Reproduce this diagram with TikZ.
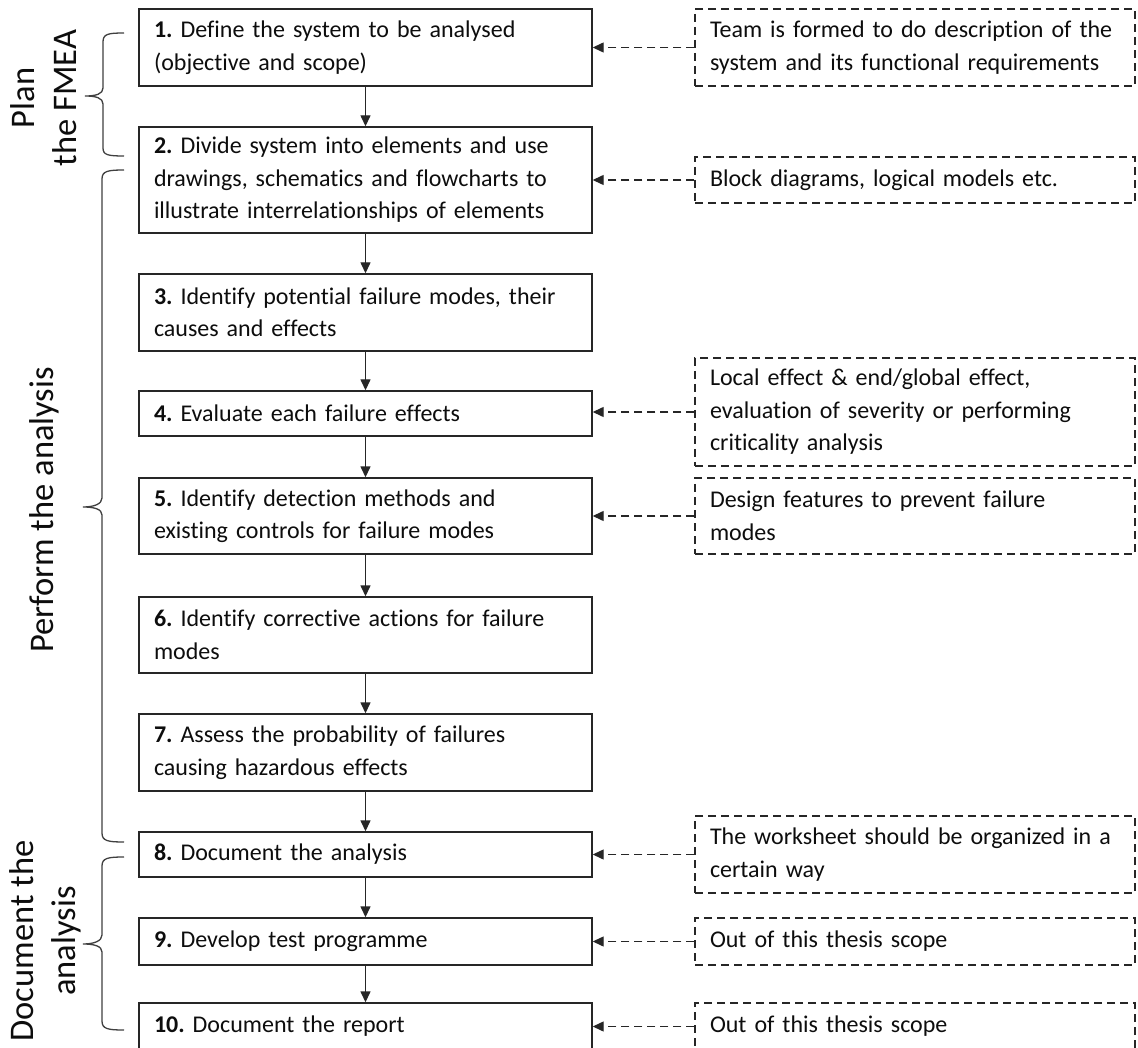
\documentclass[tikz,border=0pt]{standalone}
\usepackage{fontspec}
\setmainfont{Carlito}[Ligatures=NoCommon]
\usetikzlibrary{arrows.meta}
\frenchspacing

\tikzset{
  stepbox/.style={draw=black!85, line width=1.4pt, fill=white,
    text width=423pt, inner xsep=15pt, inner ysep=0pt, align=left,
    font=\fontsize{24}{32.5}\selectfont, text=black!95},
  notebox/.style={draw=black!85, line width=1.3pt, dash pattern=on 8pt off 5pt,
    text width=410pt, inner xsep=15pt, inner ysep=0pt, align=left,
    font=\fontsize{24}{32.5}\selectfont, text=black!95},
  flow/.style={draw=black!85, line width=1.4pt, -{Triangle[width=10pt,length=11pt]}},
  link/.style={draw=black!85, line width=1.3pt, dash pattern=on 8pt off 5pt,
    -{Triangle[width=10pt,length=11pt]}},
  bracket/.style={draw=black!75, line width=1.3pt},
  phase/.style={rotate=90, align=center, font=\fontsize{34.5}{42}\selectfont, text=black!95}
}

\begin{document}
\begin{tikzpicture}[x=1pt, y=-1pt]
  \useasboundingbox (0,0) rectangle (1138,1048);
  \fill[white] (0,0) rectangle (1138,1048);

  % main steps
  \node[stepbox, minimum height=77pt] (s1) at (365.5,47.5)
    {\textbf{1.} Define the system to be analysed\\(objective and scope)};
  \node[stepbox, minimum height=106pt] (s2) at (365.5,180)
    {\textbf{2.} Divide system into elements and use\\drawings, schematics and flowcharts to\\illustrate interrelationships of elements};
  \node[stepbox, minimum height=77pt] (s3) at (365.5,312.5)
    {\textbf{3.} Identify potential failure modes, their\\causes and effects};
  \node[stepbox, minimum height=45pt] (s4) at (365.5,413.5)
    {\textbf{4.} Evaluate each failure effects};
  \node[stepbox, minimum height=76pt] (s5) at (365.5,516)
    {\textbf{5.} Identify detection methods and\\existing controls for failure modes};
  \node[stepbox, minimum height=76pt] (s6) at (365.5,635)
    {\textbf{6.} Identify corrective actions for failure\\modes};
  \node[stepbox, minimum height=77pt] (s7) at (365.5,752.5)
    {\textbf{7.} Assess the probability of failures\\causing hazardous effects};
  \node[stepbox, minimum height=45pt] (s8) at (365.5,854.5)
    {\textbf{8.} Document the analysis};
  \node[stepbox, minimum height=47pt] (s9) at (365.5,941.5)
    {\textbf{9.} Develop test programme};
  \node[stepbox, minimum height=47pt] (s10) at (365.5,1026.5)
    {\textbf{10.} Document the report};

  % flow between steps
  \draw[flow] (s1) -- (s2);
  \draw[flow] (s2) -- (s3);
  \draw[flow] (s3) -- (s4);
  \draw[flow] (s4) -- (s5);
  \draw[flow] (s5) -- (s6);
  \draw[flow] (s6) -- (s7);
  \draw[flow] (s7) -- (s8);
  \draw[flow] (s8) -- (s9);
  \draw[flow] (s9) -- (s10);

  % notes on the right
  \node[notebox, minimum height=77pt] (n1) at (915,47.5)
    {Team is formed to do description of the\\system and its functional requirements};
  \node[notebox, minimum height=46pt] (n2) at (915,180)
    {Block diagrams, logical models etc.};
  \node[notebox, minimum height=108pt] (n4) at (915,412)
    {Local effect \& end/global effect,\\evaluation of severity or performing\\criticality analysis};
  \node[notebox, minimum height=76pt] (n5) at (915,516)
    {Design features to prevent failure\\modes};
  \node[notebox, minimum height=77pt] (n8) at (915,854.5)
    {The worksheet should be organized in a\\certain way};
  \node[notebox, minimum height=47pt] (n9) at (915,941.5)
    {Out of this thesis scope};
  \node[notebox, minimum height=47pt] (n10) at (915,1026.5)
    {Out of this thesis scope};

  \draw[link] (s1.east -| n1.west) -- (s1.east);
  \draw[link] (s2.east -| n2.west) -- (s2.east);
  \draw[link] (n4.west) -- (n4.west -| s4.east);
  \draw[link] (s5.east -| n5.west) -- (s5.east);
  \draw[link] (s8.east -| n8.west) -- (s8.east);
  \draw[link] (s9.east -| n9.west) -- (s9.east);
  \draw[link] (s10.east -| n10.west) -- (s10.east);

  % phase brackets
  \draw[bracket] (124,33) .. controls (108,33) and (103,34) .. (103,42)
    -- (103,88) .. controls (103,94) and (96,96) .. (85,96)
    .. controls (96,96) and (103,98) .. (103,104)
    -- (103,148) .. controls (103,155) and (108,156) .. (124,156);
  \draw[bracket] (124,170) .. controls (108,170) and (102,171) .. (102,179)
    -- (102,498) .. controls (102,504) and (94,507) .. (83,507)
    .. controls (94,507) and (102,509) .. (102,515)
    -- (102,833) .. controls (102,841) and (108,842) .. (124,842);
  \draw[bracket] (124,857) .. controls (108,857) and (102,858) .. (102,866)
    -- (102,935) .. controls (102,941) and (94,944) .. (83,944)
    .. controls (94,944) and (102,946) .. (102,952)
    -- (102,1021) .. controls (102,1029) and (108,1030) .. (124,1030);

  % phase labels
  \node[phase] (p1) at (44,98) {Plan\\the FMEA};
  \node[phase] (p2) at (44,510) {Perform the analysis};
  \node[phase] (p3) at (45,941) {Document the\\analysis};
\end{tikzpicture}
\end{document}
